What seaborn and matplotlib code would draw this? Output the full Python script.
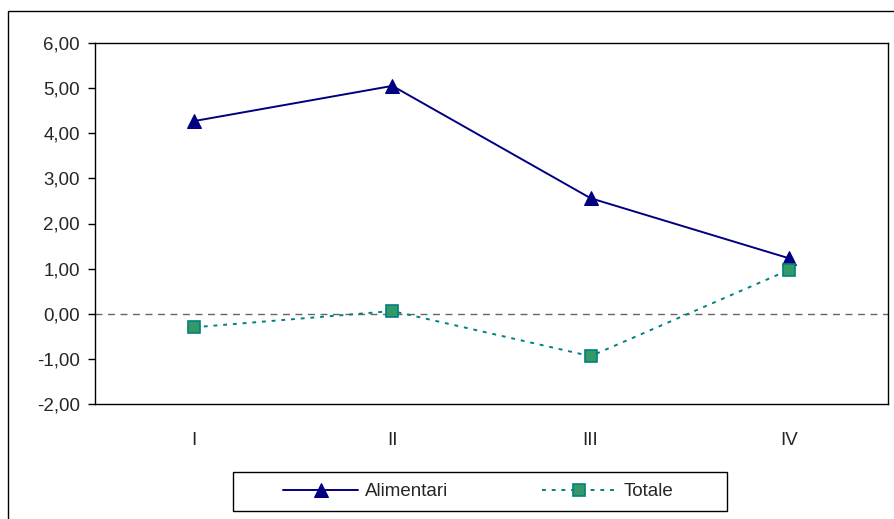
import matplotlib
matplotlib.use("Agg")
import matplotlib.pyplot as plt
import seaborn as sns
import pandas as pd
from matplotlib.patches import Rectangle

# quarters and series values
quarters = ["I", "II", "III", "IV"]
alimentari = [4.27, 5.05, 2.56, 1.23]
totale = [-0.30, 0.06, -0.94, 0.97]
y_ticks = [-2, -1, 0, 1, 2, 3, 4, 5, 6]

sns.set_theme(style="white")
plt.rcParams['font.family'] = ['Liberation Sans', 'DejaVu Sans']

W, H = 895, 519
df = pd.DataFrame({"pos": range(len(quarters)), "quarter": quarters,
                   "Alimentari": alimentari, "Totale": totale})

fig = plt.figure(figsize=(W / 100, H / 100), dpi=100)
ax = fig.add_axes([95 / W, 1 - 404 / H, (888 - 95) / W, 361 / H])

# outer chart frame
fig.patches.append(Rectangle((8 / W, -0.05), 1.1, 1 - 11 / H + 0.05,
                             transform=fig.transFigure, fill=False,
                             edgecolor="black", linewidth=1.0, zorder=0))

ax.axhline(0, color="#666666", linestyle=(0, (5, 4)), linewidth=1.0, zorder=1)

sns.lineplot(data=df, x="pos", y="Alimentari", ax=ax, color="#000080",
             linewidth=1.4, marker="^", markersize=10, markeredgecolor="#000080",
             label="Alimentari", sort=False, legend=False, zorder=3)
sns.lineplot(data=df, x="pos", y="Totale", ax=ax, color="#008080",
             linewidth=1.4, linestyle=(0, (2, 3)), marker="s", markersize=8,
             markerfacecolor="#339966", markeredgecolor="#008080",
             markeredgewidth=1.2, label="Totale", sort=False, legend=False, zorder=3)

fs = 13.5
ax.set_xlim(-0.5, 3.5)
ax.set_ylim(-2, 6)
ax.set_yticks(y_ticks)
ax.set_yticklabels([f"{v:.2f}".replace(".", ",") for v in y_ticks], fontsize=fs)
ax.set_xticks(df["pos"])
ax.set_xticklabels(quarters, fontsize=fs)
ax.tick_params(axis="y", which="both", left=True, length=5, width=1, color="black", pad=6)
ax.tick_params(axis="x", bottom=False, pad=14)
ax.set_xlabel("")
ax.set_ylabel("")
for s in ax.spines.values():
    s.set_color("black")
    s.set_linewidth(1.0)

# legend box drawn separately, legend content placed inside it
fig.patches.append(Rectangle((233 / W, 1 - 511 / H), (727 - 233) / W, 39 / H,
                             transform=fig.transFigure, fill=False,
                             edgecolor="black", linewidth=1.0, zorder=2))
handles, labels = ax.get_legend_handles_labels()
leg = fig.legend(handles, labels, loc="center", ncol=2,
                 bbox_to_anchor=(478 / W, 1 - 491.5 / H),
                 frameon=False, fontsize=fs, handlelength=4.0,
                 columnspacing=5.0, handletextpad=0.35)

fig.savefig("out.png", dpi=100)
